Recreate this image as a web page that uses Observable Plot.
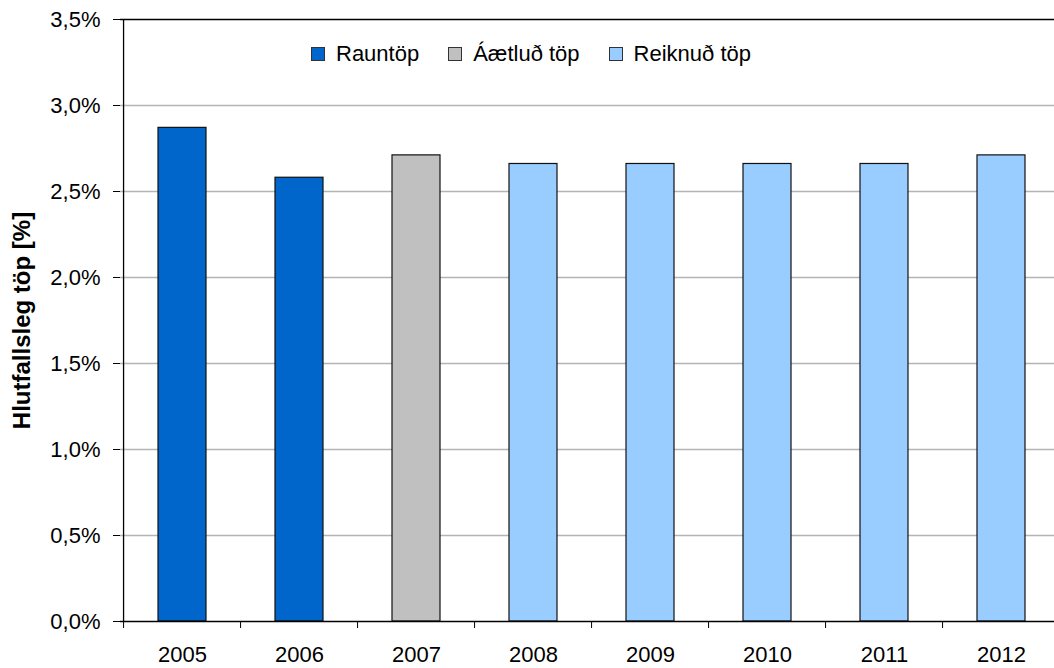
<!DOCTYPE html>
<html>
<head>
<meta charset="utf-8">
<script src="https://cdn.jsdelivr.net/npm/d3@7"></script>
<script src="https://cdn.jsdelivr.net/npm/@observablehq/plot@0.6"></script>
<style>
  html, body { margin: 0; padding: 0; background: #fff; overflow: hidden; }
  #wrap { position: relative; width: 1054px; height: 668px; font-family: "Liberation Sans", Arial, sans-serif; }
  #legend { position: absolute; top: 41px; left: 311px; display: flex; align-items: center; font-size: 22px; color: #000; white-space: nowrap; }
  .item { display: flex; align-items: center; margin-right: 29px; }
  .sw { width: 12px; height: 12px; border: 1px solid #333; margin-right: 11px; }
  g[aria-label="y-axis label"] text { font-weight: bold; font-size: 24px; }
</style>
</head>
<body>
<div id="wrap"><div id="legend"></div></div>
<script>
const years = ["2005", "2006", "2007", "2008", "2009", "2010", "2011", "2012"];
const values = [2.87, 2.58, 2.71, 2.66, 2.66, 2.66, 2.66, 2.71];
const types = ["Rauntöp", "Rauntöp", "Áætluð töp", "Reiknuð töp", "Reiknuð töp", "Reiknuð töp", "Reiknuð töp", "Reiknuð töp"];
const seriesNames = ["Rauntöp", "Áætluð töp", "Reiknuð töp"];
const seriesColors = ["#0066CC", "#C0C0C0", "#99CCFF"];
const yTicks = [0, 0.5, 1.0, 1.5, 2.0, 2.5, 3.0, 3.5];
const yLabel = "Hlutfallsleg töp [%]";

const data = years.map((y, i) => ({year: y, value: values[i], type: types[i]}));
const xRange = [120, 1063];
const step = (xRange[1] - xRange[0]) / years.length;
const fmt = d => d.toFixed(1).replace(".", ",") + "%";

const chart = Plot.plot({
  width: 1054,
  height: 668,
  marginLeft: 120,
  marginRight: 0,
  marginTop: 19,
  marginBottom: 47,
  x: {domain: years, range: xRange, paddingInner: 0.593, paddingOuter: 0.2965, align: 0.5},
  y: {domain: [0, 3.5]},
  color: {domain: seriesNames, range: seriesColors},
  style: {fontFamily: "'Liberation Sans', Arial, sans-serif", fontSize: "22px", color: "#000", background: "#fff", overflow: "hidden"},
  marks: [
    Plot.ruleY(yTicks.filter(t => t > 0 && t < 3.5), {stroke: "#b4b4b4", strokeWidth: 1.3}),
    Plot.ruleY([3.5], {stroke: "#000", strokeWidth: 1.3}),
    Plot.barY(data, {x: "year", y: "value", fill: "type", stroke: "#111", strokeWidth: 1.2}),
    Plot.ruleY([0], {stroke: "#000", strokeWidth: 1.3}),
    Plot.ruleX([years[0]], {dx: -step / 2, stroke: "#000", strokeWidth: 1.3}),
    Plot.axisY({ticks: yTicks, tickSize: 7, tickPadding: 13, tickFormat: fmt, label: yLabel, labelAnchor: "center", labelOffset: 108, labelArrow: "none", stroke: "#000"}),
    Plot.axisX({tickSize: 7, dx: -step / 2, tickFormat: () => "", label: null, stroke: "#000"}),
    Plot.axisX({tickSize: 0, tickPadding: 25, label: null})
  ]
});
document.getElementById("wrap").prepend(chart);

const legend = d3.select("#legend");
seriesNames.forEach((n, i) => {
  const it = legend.append("div").attr("class", "item");
  it.append("div").attr("class", "sw").style("background", seriesColors[i]);
  it.append("span").text(n);
});
</script>
</body>
</html>
